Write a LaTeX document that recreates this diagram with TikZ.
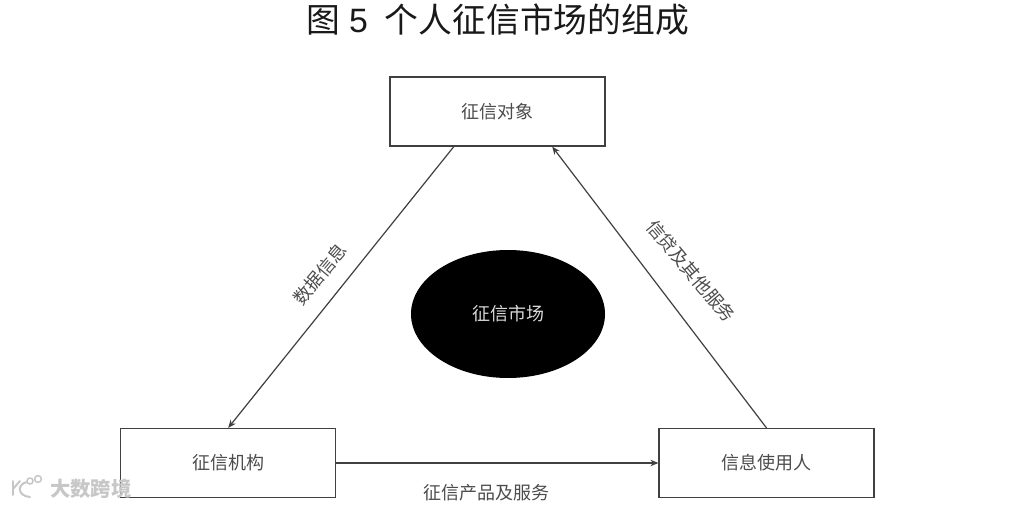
\documentclass[tikz,border=0pt]{standalone}
\usepackage{fontspec}
\usetikzlibrary{calc,arrows.meta,shapes.geometric}
\newfontfamily\cjk{Noto Sans CJK SC}
\newfontfamily\titlelat{Liberation Sans}
\tikzset{
  every node/.style={font=\cjk},
  boxnode/.style={draw=black!75,line width=1.2pt,rectangle,minimum width=215pt,minimum height=69pt,inner sep=0pt,text=black!70,font=\cjk\fontsize{18}{18}\selectfont},
  flow/.style={draw=black!75,line width=1.2pt,-{Stealth[length=8pt,width=6.5pt]}},
  flowlabel/.style={text=black!70,inner sep=0pt,font=\cjk\fontsize{18}{18}\selectfont},
  marktext/.style={text=black!22,inner sep=0pt,font=\cjk\bfseries\fontsize{20.3}{20}\selectfont},
  markline/.style={draw=black!22,line width=2pt,line cap=round}
}
\begin{document}
\begin{tikzpicture}[x=1pt,y=-1pt]
\useasboundingbox (0,0) rectangle (1010,508);
\fill[white] (0,0) rectangle (1010,508);
\node[inner sep=0pt,font=\cjk\fontsize{33.8}{34}\selectfont,text=black!90] (title) at (498,20) {图\hspace{0.25em}{\titlelat 5}\hspace{0.5em}个人征信市场的组成};
\node[boxnode] (obj) at (497.5,111.5) {征信对象};
\node[boxnode] (org) at (228.2,463) {征信机构};
\node[boxnode] (usr) at (766.5,463) {信息使用人};
\node[ellipse,fill=black,inner sep=0pt,minimum width=194pt,minimum height=128pt,text=white!85!black,font=\cjk\fontsize{18}{18}\selectfont] (mkt) at (508,314) {征信市场};
\coordinate (objL) at ($(obj.south west)!0.298!(obj.south east)$);
\coordinate (objR) at ($(obj.south west)!0.753!(obj.south east)$);
\draw[flow] (objL) -- (org.north);
\draw[flow] (usr.north) -- (objR);
\draw[flow] (org.east) -- (usr.west);
\node[flowlabel,rotate=50] (l1) at (320,274) {数据信息};
\node[flowlabel,rotate=-50] (l2) at (691,271) {信贷及其他服务};
\node[flowlabel] (l3) at (486,493) {征信产品及服务};
\node[marktext,anchor=west] (wm) at (50,489) {大数跨境};
\draw[markline] (13,481) -- (13,495);
\draw[markline] (13,489) -- (20,481);
\draw[markline] (27,482) .. controls (17,484) and (17,496) .. (30,497);
\draw[markline,line width=1.5pt] (30,481) circle (3pt) (38,479) circle (3.4pt);
\end{tikzpicture}
\end{document}
